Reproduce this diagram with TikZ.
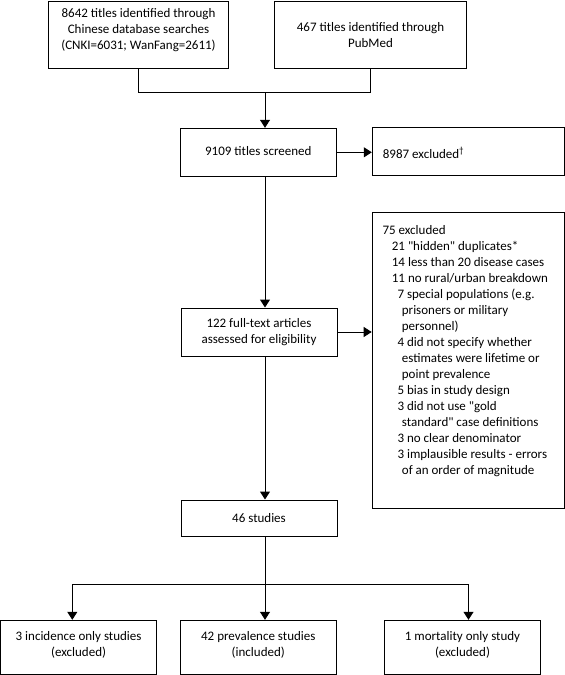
\documentclass[tikz,border=0pt]{standalone}
\usepackage{fontspec}
\setmainfont{Carlito}
\usetikzlibrary{arrows.meta}
\begin{document}
\begin{tikzpicture}[x=1pt,y=-1pt,
  every node/.style={font=\fontsize{13}{16}\selectfont},
  box/.style={draw,line width=1pt,inner sep=0pt,align=center},
  txt/.style={align=center,inner sep=0pt},
  ln/.style={line width=1pt},
  arr/.style={line width=1pt,-{Triangle[width=10pt,length=8pt]}}]
\useasboundingbox (0,0) rectangle (565,675);
% top sources
\node[box,minimum width=180,minimum height=66.6] (src1) at (138.5,35) {};
\node[txt] (src1t) at (138.5,30)
  {8642 titles identified through\\Chinese database searches\\(CNKI=6031; WanFang=2611)};
\node[box,minimum width=192,minimum height=66.6] (src2) at (370.5,35)
  {467 titles identified through\\PubMed};
% screening
\node[box,minimum width=156,minimum height=48] (scr) at (258.3,152.3) {};
\node[txt] (scrt) at (258.3,151) {9109 titles screened};
\node[box,minimum width=192,minimum height=47.7] (exc1) at (468.3,151.2) {};
\node[anchor=west,inner sep=0pt] (exc1t) at (382.7,153) {8987 excluded\textsuperscript{†}};
% full text
\node[box,minimum width=156,minimum height=48] (full) at (259,332)
  {122 full-text articles\\assessed for eligibility};
\node[box,minimum width=192,minimum height=296] (exc2) at (468.2,360.2) {};
\node[anchor=base west,inner sep=0pt] (exc2t) at (382.3,234.3) {\parbox[t]{180pt}{\raggedright
75 excluded\\
\hspace*{9.4pt}21 \textquotedbl hidden\textquotedbl{} duplicates*\\
\hspace*{9.4pt}14 less than 20 disease cases\\
\hspace*{9.4pt}11 no rural/urban breakdown\\
\hspace*{15pt}7 special populations (e.g.\\
\hspace*{19.4pt}prisoners or military\\
\hspace*{19.4pt}personnel)\\
\hspace*{15pt}4 did not specify whether\\
\hspace*{19.4pt}estimates were  lifetime or\\
\hspace*{19.4pt}point prevalence\\
\hspace*{15pt}5 bias in study design\\
\hspace*{15pt}3 did not use \textquotedbl gold\\
\hspace*{19.4pt}standard\textquotedbl{} case definitions\\
\hspace*{15pt}3 no clear denominator\\
\hspace*{15pt}3 implausible results - errors\\
\hspace*{19.4pt}of an order of magnitude}};
% studies
\node[box,minimum width=156,minimum height=36] (stud) at (259,518) {46 studies};
% outcomes
\node[box,minimum width=156.2,minimum height=54] (incA) at (78.6,647.3) {};
\node[txt] (incAt) at (78.6,645.3) {3 incidence only studies\\(excluded)};
\node[box,minimum width=156,minimum height=54] (incB) at (258.3,647.3) {};
\node[txt] (incBt) at (258.3,645.3) {42 prevalence studies\\(included)};
\node[box,minimum width=156,minimum height=54] (incC) at (462.5,647.3) {};
\node[txt] (incCt) at (462.5,645.3) {1 mortality only study\\(excluded)};
% connectors
\coordinate (spine) at (265,92.3);
\coordinate (split) at (265,584.3);
\coordinate (lsplit) at (72.3,584.3);
\coordinate (rsplit) at (468.5,584.3);
\draw[ln] (src1.south) |- (spine) -| (src2.south);
\draw[arr] (spine) -- (spine |- scr.north);
\draw[arr] (scr.east) -- (scr.east -| exc1.west);
\draw[arr] (scr.south -| spine) -- (full.north -| spine);
\draw[arr] (full.east) -- (full.east -| exc2.west);
\draw[arr] (full.south -| spine) -- (stud.north -| spine);
\draw[ln] (stud.south -| spine) -- (split);
\draw[ln] (lsplit) -- (rsplit);
\draw[arr] (split) -- (split |- incB.north);
\draw[arr] (lsplit) -- (lsplit |- incA.north);
\draw[arr] (rsplit) -- (rsplit |- incC.north);
\end{tikzpicture}
\end{document}
